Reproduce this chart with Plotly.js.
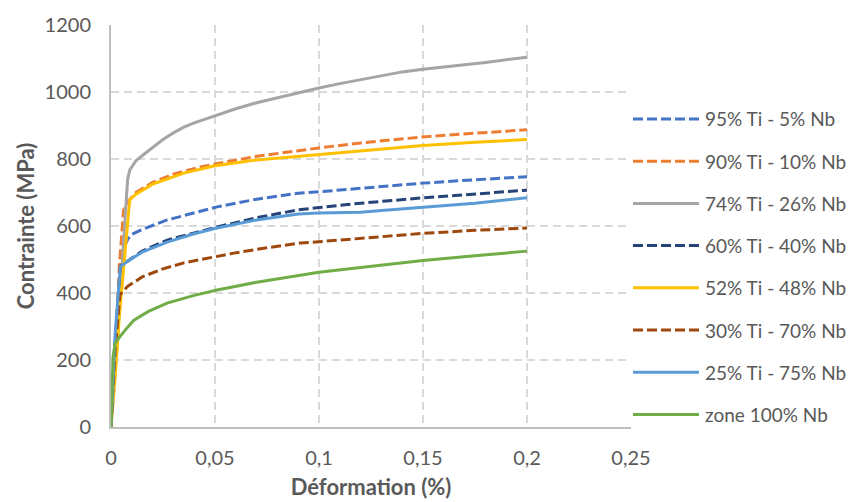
<!DOCTYPE html>
<html><head><meta charset="utf-8">
<script src="https://cdn.plot.ly/plotly-3.0.1.min.js"></script>
<style>body{margin:0;background:#fff}#c{width:853px;height:502px}</style>
</head><body><div id="c"></div>
<script>
const names = ["95% Ti - 5% Nb","90% Ti - 10% Nb","74% Ti - 26% Nb","60% Ti - 40% Nb","52% Ti - 48% Nb","30% Ti - 70% Nb","25% Ti - 75% Nb","zone 100% Nb"];
const colors = ["#4472C4","#ED7D31","#A5A5A5","#264478","#FFC000","#9E480E","#5B9BD5","#70AD47"];
const dashed = [true,true,false,true,false,true,false,false];

const x95 = [0,0.002,0.004,0.006,0.008,0.01,0.015,0.027,0.04,0.051,0.07,0.09,0.1,0.12,0.15,0.175,0.2];
const y95 = [0,200,430,530,560,575,590,618,640,657,680,698,702,712,728,738,747];
const x90 = [0,0.002,0.004,0.005,0.006,0.008,0.012,0.02,0.03,0.043,0.05,0.07,0.09,0.1,0.12,0.15,0.175,0.2];
const y90 = [0,200,480,580,645,672,700,730,755,776,785,808,825,833,848,866,877,887];
const x74 = [0,0.003,0.006,0.008,0.009,0.012,0.016,0.02,0.025,0.03,0.035,0.04,0.05,0.06,0.07,0.08,0.09,0.1,0.11,0.125,0.14,0.15,0.165,0.18,0.2];
const y74 = [0,250,550,740,767,795,815,835,858,878,895,908,930,950,968,983,998,1012,1025,1043,1060,1068,1078,1088,1104];
const x60 = [0,0.002,0.0045,0.008,0.015,0.027,0.04,0.051,0.07,0.09,0.1,0.12,0.15,0.175,0.2];
const y60 = [0,250,480,495,525,558,580,597,625,648,655,668,684,695,707];
const x52 = [0,0.002,0.004,0.006,0.008,0.009,0.012,0.02,0.035,0.05,0.07,0.09,0.1,0.12,0.15,0.175,0.2];
const y52 = [0,150,330,480,620,678,695,725,758,780,797,808,813,823,840,850,858];
const x30 = [0,0.002,0.0043,0.008,0.015,0.025,0.035,0.05,0.059,0.075,0.091,0.1,0.12,0.15,0.175,0.2];
const y30 = [0,230,395,420,448,472,490,508,519,535,549,553,563,578,587,594];
const x25 = [0,0.002,0.0045,0.008,0.015,0.027,0.04,0.051,0.07,0.09,0.1,0.11,0.12,0.13,0.15,0.175,0.2];
const y25 = [0,280,478,495,522,552,577,594,618,636,639,640,641,646,656,668,684];
const x100 = [0,0.0005,0.001,0.002,0.0043,0.008,0.011,0.018,0.027,0.04,0.051,0.07,0.091,0.1,0.12,0.15,0.175,0.2];
const y100 = [0,130,210,250,270,298,319,345,370,393,409,432,454,462,476,497,511,525];

const xs = [x95,x90,x74,x60,x52,x30,x25,x100];
const ys = [y95,y90,y74,y60,y52,y30,y25,y100];

const xTicks = [0,0.05,0.1,0.15,0.2,0.25];
const xTickText = ["0","0,05","0,1","0,15","0,2","0,25"];
const yTicks = [0,200,400,600,800,1000,1200];

const font = "Lato, 'Open Sans', sans-serif";
const DASH = "10px,4px";
const traces = names.map((n,i)=>({
  type:"scatter", mode:"lines", name:n, x:xs[i], y:ys[i], showlegend:false,
  line:{color:colors[i], width:3, dash: dashed[i] ? DASH : "solid"}
}));

// custom legend (paper coordinates): plot area is 520px wide, 402px tall
const W = 520, H = 402;
const shapes = [], annotations = [];
names.forEach((n,i)=>{
  const py = 94 + 42.2*i;
  const yp = 1 - py/H;
  shapes.push({type:"line", xref:"paper", yref:"paper", x0:522/W, x1:588/W, y0:yp, y1:yp,
    line:{color:colors[i], width:3, dash: dashed[i] ? DASH : "solid"}});
  annotations.push({xref:"paper", yref:"paper", x:592/W, y:yp, xanchor:"left", yanchor:"middle",
    text:n, showarrow:false, font:{family:font, size:19, color:"#595959"}});
});

const layout = {
  width:853, height:502,
  margin:{l:111, r:222, t:25, b:75},
  paper_bgcolor:"#fff", plot_bgcolor:"#fff",
  font:{family:font, color:"#595959", size:20},
  showlegend:false,
  shapes, annotations,
  xaxis:{range:[0,0.25], tickvals:xTicks, ticktext:xTickText, showgrid:true, gridcolor:"#D9D9D9", griddash:"8px,5px", gridwidth:1.3,
         showline:true, linecolor:"#BFBFBF", linewidth:2, zeroline:false, ticks:"outside", ticklen:12, tickcolor:"rgba(0,0,0,0)",
         tickfont:{size:20, color:"#595959"},
         title:{text:"<b>Déformation (%)</b>", font:{size:22, color:"#595959"}, standoff:12}},
  yaxis:{range:[0,1200], tickvals:yTicks, showgrid:true, gridcolor:"#D9D9D9", griddash:"8px,5px", gridwidth:1.3,
         showline:true, linecolor:"#BFBFBF", linewidth:2, zeroline:false, ticks:"outside", ticklen:14, tickcolor:"rgba(0,0,0,0)",
         tickfont:{size:20, color:"#595959"},
         title:{text:"<b>Contrainte (MPa)</b>", font:{size:22, color:"#595959"}, standoff:4}}
};
Plotly.newPlot("c", traces, layout, {displayModeBar:false, staticPlot:true});
</script></body></html>
